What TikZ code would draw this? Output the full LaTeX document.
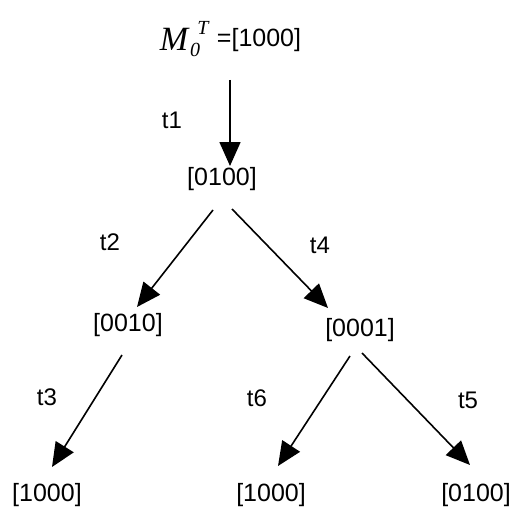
\documentclass[tikz,border=0pt]{standalone}
\usepackage{fontspec}
\setmainfont{Liberation Sans}
\newfontfamily\serifM{Liberation Serif}
\usetikzlibrary{arrows.meta}
\tikzset{
  lbl/.style={inner sep=0pt, font=\fontsize{25}{30}\selectfont},
  tlbl/.style={inner sep=0pt, font=\fontsize{24}{28}\selectfont},
  arr/.style={line width=1.6pt, -{Triangle[length=24pt,width=21pt]}}
}
\begin{document}
\begin{tikzpicture}[x=1pt,y=-1pt]
\useasboundingbox (0,0) rectangle (513,508);
% initial marking
\node[inner sep=0pt, font=\fontsize{34}{36}\selectfont\serifM\itshape] (m) at (174,39) {M};
\node[inner sep=0pt, font=\fontsize{20}{22}\selectfont\serifM\itshape] (msub) at (195,50) {0};
\node[inner sep=0pt, font=\fontsize{20}{22}\selectfont\serifM\itshape] (msup) at (203,28) {T};
\node[lbl] (eq) at (259,40) {=[1000]};
% markings
\node[lbl] (n1) at (222,179) {[0100]};
\node[lbl] (n2) at (128,325) {[0010]};
\node[lbl] (n3) at (360,330) {[0001]};
\node[lbl] (n4) at (47,495) {[1000]};
\node[lbl] (n5) at (271,495) {[1000]};
\node[lbl] (n6) at (476,495) {[0100]};
% transition labels
\node[tlbl] (l1) at (172,120) {t1};
\node[tlbl] (l2) at (110,242) {t2};
\node[tlbl] (l4) at (320,245) {t4};
\node[tlbl] (l3) at (47,397) {t3};
\node[tlbl] (l6) at (257,398) {t6};
\node[tlbl] (l5) at (468,400) {t5};
% arcs
\draw[arr] ([shift={(-29,40)}]eq.center) -- ([shift={(8,-13)}]n1.center);
\draw[arr] ([shift={(-9,31)}]n1.center) -- ([shift={(9,-18)}]n2.center);
\draw[arr] ([shift={(10,30)}]n1.center) -- ([shift={(-32,-22)}]n3.center);
\draw[arr] ([shift={(-6,30)}]n2.center) -- ([shift={(5,-28)}]n4.center);
\draw[arr] ([shift={(-10,26)}]n3.center) -- ([shift={(7,-29)}]n5.center);
\draw[arr] ([shift={(2,23)}]n3.center) -- ([shift={(-6,-30)}]n6.center);
\end{tikzpicture}
\end{document}
